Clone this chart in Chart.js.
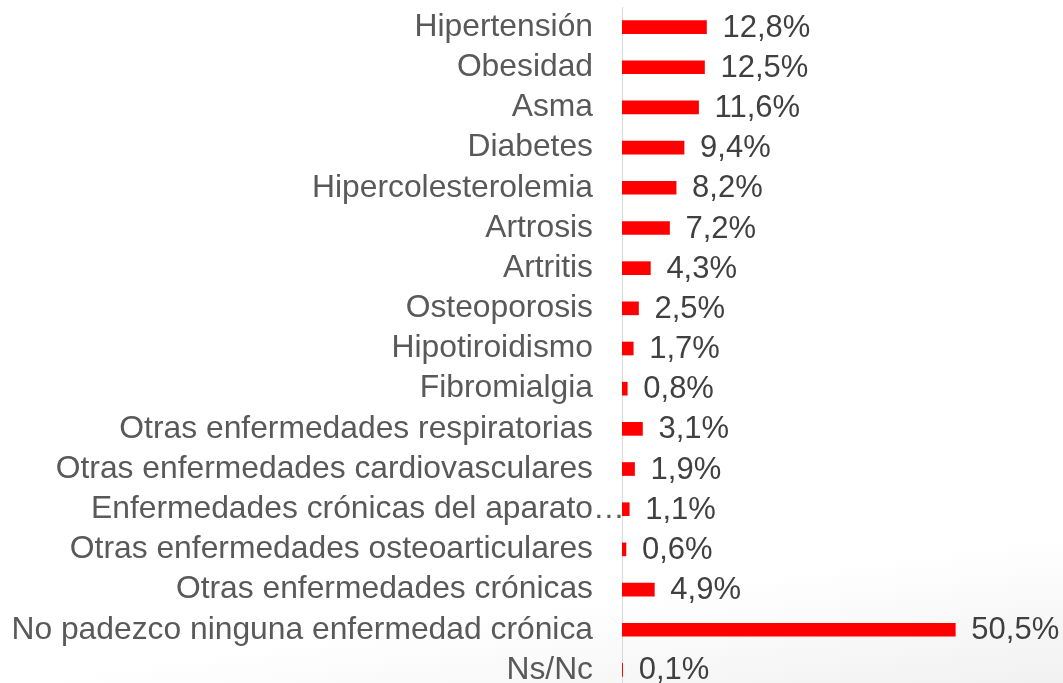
<!DOCTYPE html>
<html>
<head>
<meta charset="utf-8">
<script src="https://cdn.jsdelivr.net/npm/chart.js@4/dist/chart.umd.min.js"></script>
<style>
  html, body { margin: 0; padding: 0; overflow: hidden; }
  body {
    width: 1063px; height: 683px;
    background: linear-gradient(172deg, #ffffff 82%, #f1f1f1 100%);
  }
  #wrap { position: relative; width: 1063px; height: 690px; }
</style>
</head>
<body>
<div id="wrap"><canvas id="chart"></canvas></div>
<script>
  const categories = [
    "Hipertensión",
    "Obesidad",
    "Asma",
    "Diabetes",
    "Hipercolesterolemia",
    "Artrosis",
    "Artritis",
    "Osteoporosis",
    "Hipotiroidismo",
    "Fibromialgia",
    "Otras enfermedades respiratorias",
    "Otras enfermedades cardiovasculares",
    "Enfermedades crónicas del aparato",
    "Otras enfermedades osteoarticulares",
    "Otras enfermedades crónicas",
    "No padezco ninguna enfermedad crónica",
    "Ns/Nc",
  ];
  const values = [12.8, 12.5, 11.6, 9.4, 8.2, 7.2, 4.3, 2.5, 1.7, 0.8, 3.1, 1.9, 1.1, 0.6, 4.9, 50.5, 0.1];
  // labels cut short in the original get an ellipsis that hangs over the axis
  const truncated = ["Enfermedades crónicas del aparato"];

  const FONT = "'Liberation Sans', Arial, sans-serif";

  // value labels to the right of each bar
  const valueLabels = {
    id: "valueLabels",
    afterDatasetsDraw(chart) {
      const ctx = chart.ctx;
      const meta = chart.getDatasetMeta(0);
      const yScale = chart.scales.y;
      ctx.save();
      ctx.font = "31px " + FONT;
      ctx.fillStyle = "#404040";
      ctx.textAlign = "left";
      ctx.textBaseline = "middle";
      meta.data.forEach((bar, i) => {
        const txt = values[i].toFixed(1).replace(".", ",") + "%";
        ctx.fillText(txt, bar.x + 16, bar.y + 1);
      });
      ctx.font = "31.8px " + FONT;
      ctx.fillStyle = "#595959";
      categories.forEach((c, i) => {
        if (truncated.includes(c)) {
          ctx.fillText("…", yScale.right - 29, yScale.getPixelForTick(i));
        }
      });
      ctx.restore();
    },
  };

  new Chart(document.getElementById("chart"), {
    type: "bar",
    data: {
      labels: categories,
      datasets: [
        {
          data: values,
          backgroundColor: "#ff0000",
          barThickness: 13,
        },
      ],
    },
    options: {
      indexAxis: "y",
      responsive: true,
      maintainAspectRatio: false,
      animation: false,
      layout: { padding: { top: 7, right: 45, bottom: 0, left: 0 } },
      scales: {
        x: {
          min: 0,
          max: 60,
          display: false,
        },
        y: {
          afterFit: (scale) => {
            scale.width = 622;
            scale.paddingTop = 0;
            scale.paddingBottom = 0;
          },
          grid: { display: false, drawTicks: false },
          border: { display: true, color: "#d9d9d9", width: 1 },
          ticks: {
            padding: 29,
            color: "#595959",
            font: { family: FONT, size: 31.8 },
            autoSkip: false,
          },
        },
      },
      plugins: {
        legend: { display: false },
        tooltip: { enabled: false },
      },
    },
    plugins: [valueLabels],
  });
</script>
</body>
</html>
